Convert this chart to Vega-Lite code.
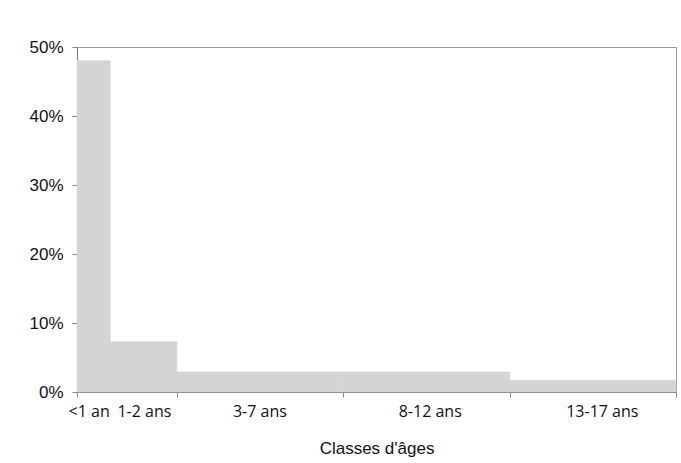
{
  "$schema": "https://vega.github.io/schema/vega-lite/v6.json",
  "width": 599,
  "height": 345,
  "autosize": {"type": "none"},
  "padding": {"left": 77, "top": 47, "right": 5, "bottom": 71},
  "background": "white",
  "config": {
    "view": {"stroke": "#999999", "strokeWidth": 1},
    "font": "Liberation Sans"
  },
  "data": {
    "values": [
      {"classe": "<1 an", "debut": 0, "fin": 1, "pct": 48.0},
      {"classe": "1-2 ans", "debut": 1, "fin": 3, "pct": 7.3},
      {"classe": "3-7 ans", "debut": 3, "fin": 8, "pct": 2.9},
      {"classe": "8-12 ans", "debut": 8, "fin": 13, "pct": 2.9},
      {"classe": "13-17 ans", "debut": 13, "fin": 18, "pct": 1.7}
    ]
  },
  "mark": {"type": "rect", "color": "#d4d4d4", "stroke": "#d4d4d4", "strokeWidth": 0.6},
  "encoding": {
    "x": {
      "field": "debut",
      "type": "quantitative",
      "scale": {"domain": [0, 18], "nice": false, "zero": false},
      "axis": {
        "title": "Classes d'âges",
        "titleFont": "Liberation Sans",
        "titleFontSize": 17,
        "titleFontWeight": "normal",
        "titleColor": "#111111",
        "titleBaseline": "alphabetic",
        "titleY": 61,
        "values": [0, 0.35, 2.01, 3, 5.48, 8, 10.6, 13, 15.77, 18],
        "labelExpr": "datum.value == 0.35 ? '<1 an' : datum.value == 2.01 ? '1-2 ans' : datum.value == 5.48 ? '3-7 ans' : datum.value == 10.6 ? '8-12 ans' : datum.value == 15.77 ? '13-17 ans' : ''",
        "labelFont": "Open Sans",
        "labelFontSize": 16,
        "labelColor": "#111111",
        "labelBaseline": "alphabetic",
        "labelPadding": 19,
        "labelFlush": false,
        "labelOverlap": false,
        "tickSize": 5,
        "tickColor": "#888888",
        "tickOpacity": {"condition": {"test": "indexof([0,3,8,13,18], datum.value) >= 0", "value": 1}, "value": 0},
        "domainColor": "#777777",
        "grid": false
      }
    },
    "x2": {"field": "fin"},
    "y": {
      "field": "pct",
      "type": "quantitative",
      "scale": {"domain": [0, 50], "nice": false},
      "axis": {
        "title": null,
        "values": [0, 10, 20, 30, 40, 50],
        "labelExpr": "datum.value + '%'",
        "labelFont": "Liberation Sans",
        "labelFontSize": 17,
        "labelColor": "#111111",
        "labelPadding": 9,
        "tickSize": 5,
        "tickColor": "#888888",
        "domainColor": "#777777",
        "grid": false
      }
    },
    "y2": {"datum": 0}
  }
}
